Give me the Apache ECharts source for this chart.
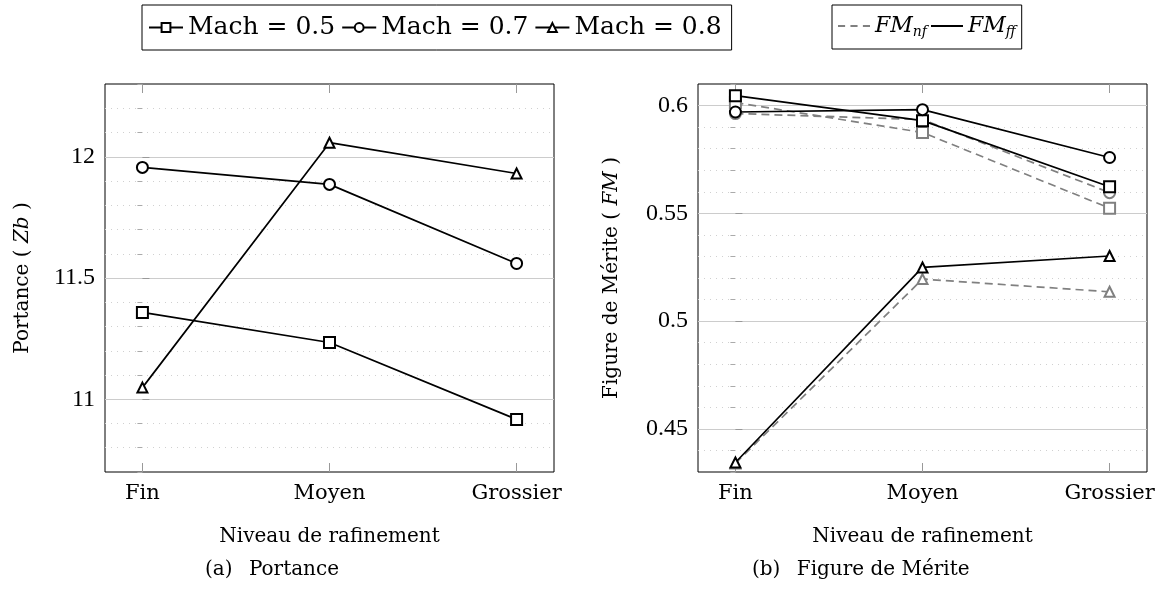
<!DOCTYPE html>
<html>
<head>
<meta charset="utf-8">
<script src="https://cdn.jsdelivr.net/npm/echarts@6/dist/echarts.min.js"></script>
<style>
  html, body { margin: 0; padding: 0; background: #fff; }
  #main { width: 1160px; height: 589px; }
</style>
</head>
<body>
<div id="main"></div>
<script>
// niveaux de rafinement (axe x)
const levels = ['Fin', 'Moyen', 'Grossier'];

// (a) Portance Zb
const portance05 = [11.358, 11.234, 10.917];
const portance07 = [11.956, 11.886, 11.560];
const portance08 = [11.048, 12.058, 11.931];

// (b) Figure de Mérite, nf (tirets gris) et ff (trait noir)
const fmNf05 = [0.6014, 0.5875, 0.5524];
const fmNf07 = [0.5963, 0.5935, 0.5596];
const fmNf08 = [0.4340, 0.5195, 0.5136];
const fmFf05 = [0.6046, 0.5930, 0.5623];
const fmFf07 = [0.5970, 0.5981, 0.5759];
const fmFf08 = [0.4344, 0.5249, 0.5302];

// graduations
const portanceTicks = [11, 11.5, 12];
const fmTicks = [0.45, 0.5, 0.55, 0.6];
const levelTicks = [0, 1, 2];

(function () {
  let myChart = echarts.init(document.getElementById('main'));
  const serif = 'DejaVu Serif';
  const numFont = 'Liberation Serif';
  const grey = '#808080';

  function pts(vals) {
    return vals.map((v, i) => [i, v]);
  }

  // axe x (valeurs 0,1,2 -> Fin, Moyen, Grossier)
  function xAxes(gridIndex) {
    return [
      {
        type: 'value', gridIndex: gridIndex, min: -0.2, max: 2.2,
        axisLine: { show: false },
        splitLine: { show: false },
        axisTick: { inside: true, length: 9, customValues: levelTicks, lineStyle: { color: '#999' } },
        axisLabel: {
          customValues: levelTicks, margin: 11,
          fontFamily: serif, fontSize: 21, color: '#000',
          formatter: v => levels[Math.round(v)]
        },
        name: 'Niveau de rafinement', nameLocation: 'middle', nameGap: 55,
        nameTextStyle: { fontFamily: serif, fontSize: 20, color: '#000' }
      },
      {
        type: 'value', gridIndex: gridIndex, min: -0.2, max: 2.2, position: 'top',
        axisLine: { show: false },
        splitLine: { show: false },
        axisTick: { inside: true, length: 9, customValues: levelTicks, lineStyle: { color: '#999' } },
        axisLabel: { show: false }
      }
    ];
  }

  // axe y principal + axe des graduations secondaires (pointillés)
  function yAxes(gridIndex, min, max, major, minor, name, gap) {
    return [
      {
        type: 'value', gridIndex: gridIndex, min: min, max: max,
        axisLine: { show: false },
        axisTick: { inside: true, length: 7, customValues: major, lineStyle: { color: '#999' } },
        axisLabel: { customValues: major, margin: 10, fontFamily: numFont, fontSize: 24, color: '#000' },
        splitLine: { lineStyle: { color: '#cccccc', width: 1 } },
        name: name, nameLocation: 'middle', nameGap: gap,
        nameTextStyle: {
          fontFamily: serif, fontSize: 20, color: '#000',
          rich: { i: { fontFamily: serif, fontSize: 20, fontStyle: 'italic', color: '#000' } }
        },
        z: 1
      },
      {
        type: 'value', gridIndex: gridIndex, min: min, max: max, interval: minor,
        axisLine: { show: false },
        axisTick: { inside: true, length: 5, lineStyle: { color: '#aaa' } },
        axisLabel: { show: false },
        splitLine: { showMinLine: false, showMaxLine: false, lineStyle: { color: '#d0d0d0', type: [1, 5], width: 1 } },
        z: 0
      }
    ];
  }

  function line(name, data, symbol, color, dashed, xi, yi) {
    return {
      name: name, type: 'line', data: pts(data),
      xAxisIndex: xi, yAxisIndex: yi,
      symbol: symbol, symbolSize: symbol === 'emptyTriangle' ? 10 : 11,
      lineStyle: { color: color, width: 1.7, type: dashed ? [8, 5] : 'solid' },
      itemStyle: { color: color, borderColor: color, borderWidth: 1.7 },
      emphasis: { disabled: true },
      z: dashed ? 2 : 3
    };
  }

  const dashIcon = 'path://M0,0h8v2h-8z M14,0h8v2h-8z M28,0h8v2h-8z';
  const solidIcon = 'path://M0,0h36v2h-36z';

  let option = {
    animation: false,
    backgroundColor: '#fff',
    grid: [
      { left: 105, top: 84, width: 449, height: 388, show: true, borderColor: '#000', borderWidth: 1, outerBoundsMode: 'none' },
      { left: 698, top: 84, width: 449, height: 388, show: true, borderColor: '#000', borderWidth: 1, outerBoundsMode: 'none' }
    ],
    legend: [
      {
        data: ['Mach = 0.5', 'Mach = 0.7', 'Mach = 0.8'],
        left: 142, top: 5,
        itemWidth: 34, itemHeight: 11, itemGap: 6, itemTextGap: 5,
        padding: [10, 10, 10, 6],
        borderColor: '#000', borderWidth: 1, backgroundColor: '#fff',
        textStyle: { fontFamily: serif, fontSize: 25, color: '#000' },
        selectedMode: false
      },
      {
        data: [
          { name: 'FMnf', icon: dashIcon, itemStyle: { color: grey, borderWidth: 0 } },
          { name: 'FMff', icon: solidIcon, itemStyle: { color: '#000', borderWidth: 0 } }
        ],
        left: 832, top: 5,
        itemWidth: 32, itemHeight: 2, itemGap: 4, itemTextGap: 5,
        padding: [10, 6, 10, 6],
        borderColor: '#000', borderWidth: 1, backgroundColor: '#fff',
        selectedMode: false,
        formatter: function (name) {
          return name === 'FMnf' ? '{i|FM}{s|nf}' : '{i|FM}{s|ff}';
        },
        textStyle: {
          fontFamily: serif, fontSize: 22, color: '#000',
          rich: {
            i: { fontFamily: serif, fontSize: 22, fontStyle: 'italic', color: '#000' },
            s: { fontFamily: serif, fontSize: 14, fontStyle: 'italic', color: '#000', padding: [12, 0, 0, 0] }
          }
        }
      }
    ],
    xAxis: xAxes(0).concat(xAxes(1)),
    yAxis: yAxes(0, 10.7, 12.3, portanceTicks, 0.1, 'Portance ( {i|Zb} )', 72)
      .concat(yAxes(1, 0.43, 0.61, fmTicks, 0.01, 'Figure de Mérite ( {i|FM} )', 76)),
    series: [
      // (a) Portance
      line('Mach = 0.5', portance05, 'emptyRect', '#000', false, 0, 0),
      line('Mach = 0.7', portance07, 'emptyCircle', '#000', false, 0, 0),
      line('Mach = 0.8', portance08, 'emptyTriangle', '#000', false, 0, 0),
      // (b) Figure de Mérite
      line('FMnf', fmNf05, 'emptyRect', grey, true, 2, 2),
      line('FMnf', fmNf07, 'emptyCircle', grey, true, 2, 2),
      line('FMnf', fmNf08, 'emptyTriangle', grey, true, 2, 2),
      line('FMff', fmFf05, 'emptyRect', '#000', false, 2, 2),
      line('FMff', fmFf07, 'emptyCircle', '#000', false, 2, 2),
      line('FMff', fmFf08, 'emptyTriangle', '#000', false, 2, 2)
    ],
    graphic: [
      { type: 'text', left: 205, top: 560, style: { text: '(a)\u2002 Portance', font: '20px "DejaVu Serif"', fill: '#000' } },
      { type: 'text', left: 752, top: 560, style: { text: '(b)\u2002 Figure de Mérite', font: '20px "DejaVu Serif"', fill: '#000' } }
    ]
  };

  myChart.setOption(option);

  window.addEventListener('resize', function () {
    myChart.resize();
  });
})();
</script>
</body>
</html>
